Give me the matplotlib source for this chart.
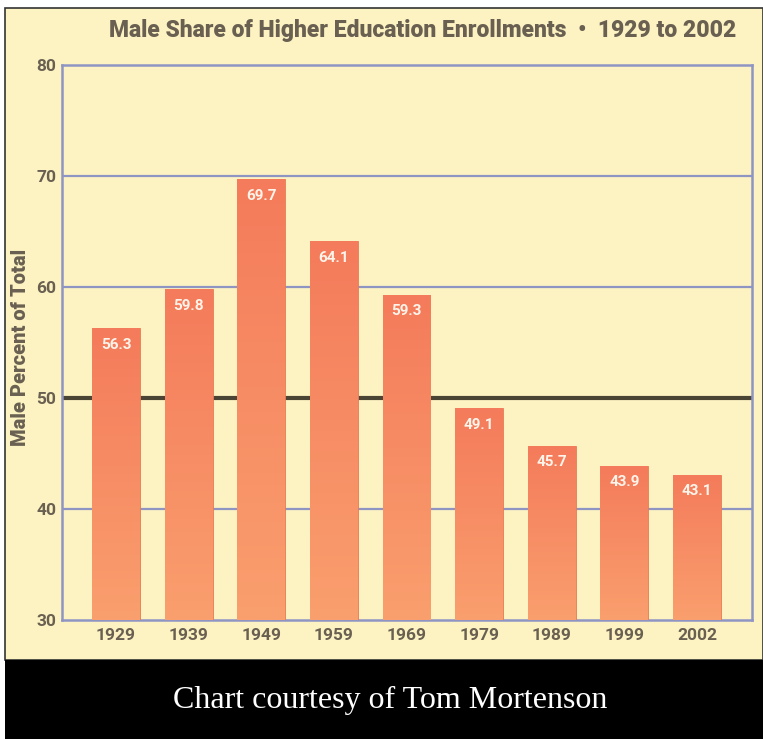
import matplotlib
matplotlib.use("Agg")
import matplotlib.pyplot as plt
import numpy as np
from matplotlib.colors import LinearSegmentedColormap
from matplotlib.patches import Rectangle

years = ["1929", "1939", "1949", "1959", "1969", "1979", "1989", "1999", "2002"]
male_share = [56.3, 59.8, 69.7, 64.1, 59.3, 49.1, 45.7, 43.9, 43.1]
yticks = [30, 40, 50, 60, 70, 80]

title = "Male Share of Higher Education Enrollments  \u2022  1929 to 2002"
ylabel = "Male Percent of Total"
credit = "Chart courtesy of Tom Mortenson"

cream = "#fdf3c2"
text_col = "#696052"
grid_col = "#8e95c2"
narrow = ["Roboto", "DejaVu Sans"]

fig = plt.figure(figsize=(7.63, 7.39), dpi=100)
fig.patch.set_facecolor("white")

W, H = 763, 739
fig.patches.append(Rectangle((5 / W, 79 / H), 1 - 5 / W, (660 - 8) / H,
                             transform=fig.transFigure, facecolor=cream,
                             edgecolor="#333333", lw=1.2, zorder=0))
fig.patches.append(Rectangle((5 / W, 0), 1 - 5 / W, 79 / H,
                             transform=fig.transFigure, facecolor="black",
                             edgecolor="none", zorder=1))

ax = fig.add_axes([62 / W, 1 - 620 / H, (752 - 62) / W, (620 - 65) / H])
ax.set_zorder(5)
ax.set_facecolor(cream)

x = np.arange(len(years))
bars = ax.bar(x, male_share, width=0.66, bottom=0, color="#f68a62",
              edgecolor="#e87a55", linewidth=0.6, zorder=3)

cmap = LinearSegmentedColormap.from_list("g", ["#fa9f6e", "#f47b5b"])
grad = np.linspace(0, 1, 256).reshape(-1, 1)
for b in bars:
    x0, w, h = b.get_x(), b.get_width(), b.get_height()
    im = ax.imshow(grad, cmap=cmap, aspect="auto", origin="lower",
                   extent=(x0, x0 + w, 30, h), zorder=3.5)
    im.set_clip_path(b)

for xi, v in zip(x, male_share):
    ax.text(xi, v - 1.5, f"{v}", ha="center", va="center", color="#fff4ea",
            fontsize=11, fontweight="bold", family=narrow, zorder=5)

ax.set_xlim(-0.744, 8.758)
ax.set_ylim(30, 80)

for yv in [40, 60, 70]:
    ax.axhline(yv, color=grid_col, lw=1.6, zorder=1)
ax.axhline(50, color="#4a4434", lw=3, zorder=1)

for s in ax.spines.values():
    s.set_color(grid_col)
    s.set_linewidth(1.8)

ax.set_yticks(yticks)
ax.set_yticklabels([str(t) for t in yticks])
ax.set_xticks(x)
ax.set_xticklabels(years)
ax.tick_params(axis="both", length=0, colors=text_col, labelsize=12.5)
ax.tick_params(axis="x", pad=6)
ax.tick_params(axis="y", pad=4)
for lab in ax.get_xticklabels() + ax.get_yticklabels():
    lab.set_family(narrow)
    lab.set_fontweight("bold")

fig.text(21 / W, 1 - 347 / H, ylabel, rotation=90, ha="center", va="center",
         color=text_col, fontsize=14.5, fontweight="heavy", family=narrow,
         zorder=6)

fig.text(423 / W, 1 - 30 / H, title, ha="center", va="center", color=text_col,
         fontsize=16.5, fontweight="heavy", family=narrow, zorder=6)

fig.text(390 / W, 1 - 700 / H, credit, ha="center", va="center", color="white",
         fontsize=23, family=["Liberation Serif", "DejaVu Serif"], zorder=6)

fig.savefig("out.png", dpi=100, facecolor=fig.get_facecolor())
